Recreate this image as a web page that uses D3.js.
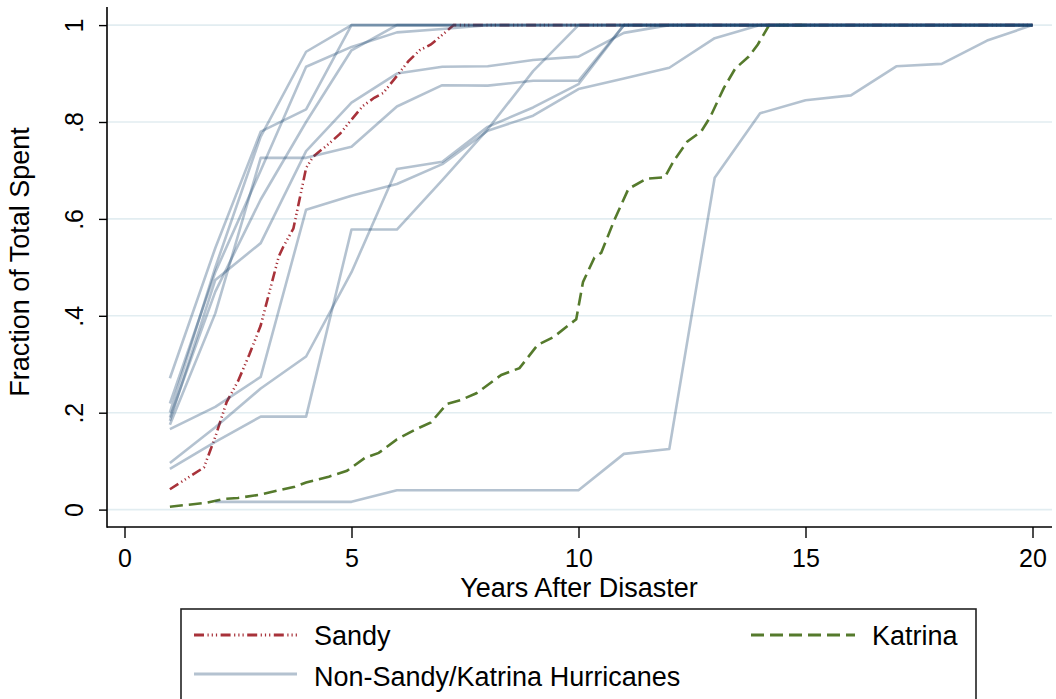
<!DOCTYPE html>
<html>
<head>
<meta charset="utf-8">
<script src="https://cdn.jsdelivr.net/npm/d3@7"></script>
<style>
  html, body { margin: 0; padding: 0; background: #ffffff; }
  svg { display: block; }
  text { font-family: "Liberation Sans", Arial, Helvetica, sans-serif; fill: #000; }
</style>
</head>
<body>
<svg id="chart" width="1056" height="699"></svg>
<script>
// ---------------- data ----------------
const hurricaneYears = [1,2,3,4,5,6,7,8,9,10,11,12,13,14,15,16,17,18,19,20];

const hurricaneA = [0.271,0.54,0.78,0.826,1,1,1,1,1,1,1,1,1,1,1,1,1,1,1,1];
const hurricaneB = [0.200,0.50,0.77,0.945,1,1,1,1,1,1,1,1,1,1,1,1,1,1,1,1];
const hurricaneC = [0.219,0.49,0.70,0.914,0.955,0.985,0.992,1,1,1,1,1,1,1,1,1,1,1,1,1];
const hurricaneD = [0.190,0.45,0.64,0.80,0.948,1,1,1,1,1,1,1,1,1,1,1,1,1,1,1];
const hurricaneE = [0.183,0.474,0.55,0.74,0.84,0.90,0.914,0.915,0.928,0.935,0.984,1,1,1,1,1,1,1,1,1];
const hurricaneF = [0.175,0.405,0.726,0.726,0.749,0.832,0.876,0.875,0.885,0.885,1,1,1,1,1,1,1,1,1,1];
const hurricaneG = [0.166,0.212,0.274,0.619,0.648,0.672,0.713,0.782,0.813,0.868,0.89,0.912,0.973,1,1,1,1,1,1,1];
const hurricaneH = [0.096,0.17,0.25,0.316,0.49,0.703,0.718,0.79,0.83,0.878,1,1,1,1,1,1,1,1,1,1];
const hurricaneI = [0.084,0.14,0.192,0.192,0.578,0.578,0.68,0.785,0.905,1,1,1,1,1,1,1,1,1,1,1];
const hurricaneJ = [null,0.016,0.016,0.016,0.016,0.04,0.04,0.04,0.04,0.04,0.115,0.125,0.685,0.818,0.845,0.855,0.915,0.92,0.968,1];

const otherHurricanes = [hurricaneA, hurricaneB, hurricaneC, hurricaneD, hurricaneE,
                         hurricaneF, hurricaneG, hurricaneH, hurricaneI, hurricaneJ];

const sandyYears = [1.0,1.75,2.0,2.25,2.5,2.75,3.0,3.25,3.4,3.5,3.72,3.9,4.0,4.15,4.5,4.75,5.0,5.25,5.5,5.7,6.0,6.25,6.5,6.75,7.0,7.25,8,9,10,11,12,13,14,15,16,17,18,19,20];
const sandyShare = [0.042,0.087,0.15,0.222,0.265,0.32,0.38,0.47,0.523,0.543,0.58,0.66,0.705,0.728,0.755,0.776,0.805,0.833,0.85,0.86,0.895,0.925,0.948,0.96,0.98,1.0,1,1,1,1,1,1,1,1,1,1,1,1,1];

const katrinaYears = [1.0,1.8,2.2,2.5,3.0,3.5,3.75,4.0,4.5,4.9,5.3,5.6,6.0,6.4,6.75,7.1,7.4,7.75,8.3,8.7,9.1,9.45,9.95,10.1,10.35,10.5,10.8,11.1,11.5,11.9,12.1,12.4,12.7,12.9,13.2,13.45,13.75,13.95,14.2,15];
const katrinaShare = [0.006,0.014,0.022,0.024,0.031,0.042,0.047,0.056,0.068,0.08,0.107,0.117,0.145,0.165,0.18,0.218,0.226,0.24,0.278,0.292,0.34,0.356,0.393,0.47,0.52,0.53,0.6,0.662,0.683,0.686,0.72,0.76,0.78,0.81,0.87,0.91,0.935,0.96,1.0,1.0];

const xTickValues = [0,5,10,15,20];
const yTickValues = [0,0.2,0.4,0.6,0.8,1];
const yTickLabels = ["0",".2",".4",".6",".8","1"];

const xTitle = "Years After Disaster";
const yTitle = "Fraction of Total Spent";
const legendLabels = ["Sandy", "Katrina", "Non-Sandy/Katrina Hurricanes"];

// ---------------- layout ----------------
const svg = d3.select("#chart");
const axisX = 107, axisY = 527;
const x = d3.scaleLinear().domain([0, 20]).range([124.5, 1032.5]);
const y = d3.scaleLinear().domain([0, 1]).range([509.6, 25.1]);

const navy = "#1a476f";
const sandyColor = "#a8323a";
const katrinaColor = "#557a2c";
const sandyDash = "10,3.5,1.2,3,1.2,3,1.2,3.5";
const katrinaDash = "13,6";

// gridlines
svg.append("g").selectAll("line").data(yTickValues).join("line")
  .attr("x1", axisX + 1).attr("x2", 1052)
  .attr("y1", d => y(d)).attr("y2", d => y(d))
  .attr("stroke", "#e2edf1").attr("stroke-width", 1.6);

// lines
const lineXY = d3.line().x(d => x(d[0])).y(d => y(d[1])).defined(d => d[1] != null);

svg.append("path")
  .datum(sandyYears.map((v, i) => [v, sandyShare[i]]))
  .attr("d", lineXY).attr("fill", "none")
  .attr("stroke", sandyColor).attr("stroke-width", 2.6)
  .attr("stroke-dasharray", sandyDash);

svg.append("path")
  .datum(katrinaYears.map((v, i) => [v, katrinaShare[i]]))
  .attr("d", lineXY).attr("fill", "none")
  .attr("stroke", katrinaColor).attr("stroke-width", 2.6)
  .attr("stroke-dasharray", katrinaDash);

svg.append("g").selectAll("path").data(otherHurricanes).join("path")
  .attr("d", s => lineXY(hurricaneYears.map((v, i) => [v, s[i]])))
  .attr("fill", "none")
  .attr("stroke", navy).attr("stroke-opacity", 0.33)
  .attr("stroke-width", 2.6).attr("stroke-linejoin", "round");

// axes
const xAxis = d3.axisBottom(x).tickValues(xTickValues).tickSize(11).tickSizeOuter(0).tickPadding(11);
const gx = svg.append("g").attr("transform", `translate(0,${axisY})`).call(xAxis);
gx.select(".domain").remove();
gx.selectAll(".tick line").attr("stroke", "#000").attr("stroke-width", 1.4);
gx.selectAll(".tick text").style("font-size", "25px").attr("fill", "#000")
  .style("font-family", '"Liberation Sans", Arial, Helvetica, sans-serif');

const yAxis = d3.axisLeft(y).tickValues(yTickValues).tickSize(8).tickSizeOuter(0)
  .tickFormat((d, i) => yTickLabels[i]);
const gy = svg.append("g").attr("transform", `translate(${axisX},0)`).call(yAxis);
gy.select(".domain").remove();
gy.selectAll(".tick line").attr("stroke", "#000").attr("stroke-width", 1.4);
gy.selectAll(".tick text")
  .attr("x", null).attr("dy", null)
  .attr("text-anchor", "middle")
  .attr("transform", "translate(-24,0) rotate(-90)")
  .style("font-size", "25px").attr("fill", "#000")
  .style("font-family", '"Liberation Sans", Arial, Helvetica, sans-serif');

// axis lines
svg.append("line").attr("x1", axisX).attr("x2", axisX).attr("y1", 7).attr("y2", axisY + 0.7)
  .attr("stroke", "#000").attr("stroke-width", 1.6);
svg.append("line").attr("x1", axisX).attr("x2", 1052).attr("y1", axisY).attr("y2", axisY)
  .attr("stroke", "#000").attr("stroke-width", 1.6);

// titles
svg.append("text").attr("x", 579).attr("y", 597).attr("text-anchor", "middle")
  .style("font-size", "27px").text(xTitle);
svg.append("text").attr("transform", "translate(29,262) rotate(-90)").attr("text-anchor", "middle")
  .style("font-size", "27px").text(yTitle);

// legend
const lg = svg.append("g");
lg.append("rect").attr("x", 181).attr("y", 609).attr("width", 795).attr("height", 100)
  .attr("fill", "#fff").attr("stroke", "#222").attr("stroke-width", 1.6);
const legendItems = [
  {label: legendLabels[0], x0: 194, x1: 297, ty: 645, ly: 635, color: sandyColor, dash: sandyDash, op: 1},
  {label: legendLabels[1], x0: 751, x1: 855, ty: 645, ly: 635, color: katrinaColor, dash: katrinaDash, op: 1},
  {label: legendLabels[2], x0: 194, x1: 297, ty: 686, ly: 674, color: navy, dash: null, op: 0.33}
];
legendItems.forEach(it => {
  lg.append("line").attr("x1", it.x0).attr("x2", it.x1).attr("y1", it.ly).attr("y2", it.ly)
    .attr("stroke", it.color).attr("stroke-opacity", it.op).attr("stroke-width", 2.8)
    .attr("stroke-dasharray", it.dash);
  lg.append("text").attr("x", it.x1 + 17).attr("y", it.ty).style("font-size", "27px").text(it.label);
});
</script>
</body>
</html>
